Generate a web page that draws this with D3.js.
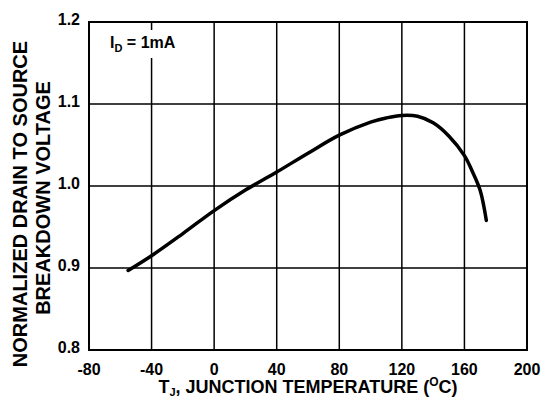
<!DOCTYPE html>
<html>
<head>
<meta charset="utf-8">
<script src="https://cdn.jsdelivr.net/npm/d3@7"></script>
<style>
  body { margin: 0; background: #fff; }
  text { font-family: "Liberation Sans", Arial, sans-serif; font-weight: bold; }
</style>
</head>
<body>
<svg id="chart" width="541" height="400"></svg>
<script>
// junction temperature (°C) and normalized BVdss
const temps = [-55, -40, -20, 0, 20, 40, 60, 80, 100, 110, 120, 130, 140, 150, 160, 165, 170, 174];
const bvdss = [0.897, 0.915, 0.942, 0.970, 0.995, 1.017, 1.040, 1.062, 1.078, 1.083, 1.086, 1.085, 1.077, 1.061, 1.037, 1.018, 0.995, 0.958];
const xTicks = [-80, -40, 0, 40, 80, 120, 160, 200];
const yTicks = [0.8, 0.9, 1.0, 1.1, 1.2];

const svg = d3.select("#chart");
const margin = { top: 22, right: 14, bottom: 50, left: 89 };
const width = 541, height = 400;

const x = d3.scaleLinear().domain([-80, 200]).range([margin.left, width - margin.right]);
const y = d3.scaleLinear().domain([0.8, 1.2]).range([height - margin.bottom, margin.top]);

// grid
svg.append("g")
  .selectAll("line")
  .data(xTicks)
  .join("line")
  .attr("x1", d => x(d)).attr("x2", d => x(d))
  .attr("y1", y(1.2)).attr("y2", y(0.8))
  .attr("stroke", "#000").attr("stroke-width", 1.5);

svg.append("g")
  .selectAll("line")
  .data(yTicks)
  .join("line")
  .attr("x1", x(-80)).attr("x2", x(200))
  .attr("y1", d => y(d)).attr("y2", d => y(d))
  .attr("stroke", "#000").attr("stroke-width", 1.5);

// frame
svg.append("rect")
  .attr("x", x(-80)).attr("y", y(1.2))
  .attr("width", x(200) - x(-80)).attr("height", y(0.8) - y(1.2))
  .attr("fill", "none").attr("stroke", "#000").attr("stroke-width", 2);

// tick labels
svg.append("g")
  .selectAll("text")
  .data(xTicks)
  .join("text")
  .attr("x", d => x(d)).attr("y", 375)
  .attr("text-anchor", "middle")
  .style("font-size", "16px")
  .text(d => d);

svg.append("g")
  .selectAll("text")
  .data(yTicks)
  .join("text")
  .attr("x", 80).attr("y", d => y(d) + 3)
  .attr("text-anchor", "end")
  .style("font-size", "16px")
  .text(d => d.toFixed(1));

// curve
const pts = temps.map((t, i) => [t, bvdss[i]]);
svg.append("path")
  .datum(pts)
  .attr("fill", "none")
  .attr("stroke", "#000")
  .attr("stroke-width", 3.5)
  .attr("stroke-linecap", "round")
  .attr("d", d3.line().x(d => x(d[0])).y(d => y(d[1])).curve(d3.curveCatmullRom));

// condition label with white box over grid
svg.append("rect")
  .attr("x", 104).attr("y", 30).attr("width", 82).attr("height", 28)
  .attr("fill", "#fff");
const cond = svg.append("text").attr("x", 110).attr("y", 48).style("font-size", "16px");
cond.append("tspan").text("I");
cond.append("tspan").attr("dy", 4).style("font-size", "11px").text("D");
cond.append("tspan").attr("dy", -4).text(" = 1mA");

// axis titles
const xt = svg.append("text")
  .attr("x", (x(-80) + x(200)) / 2).attr("y", 393)
  .attr("text-anchor", "middle")
  .style("font-size", "18px");
xt.append("tspan").text("T");
xt.append("tspan").attr("dy", 3).style("font-size", "11px").text("J");
xt.append("tspan").attr("dy", -3).text(", JUNCTION TEMPERATURE (");
xt.append("tspan").attr("dy", -7).style("font-size", "12px").text("O");
xt.append("tspan").attr("dy", 7).text("C)");

svg.append("text")
  .attr("transform", "translate(27,204) rotate(-90)")
  .attr("text-anchor", "middle")
  .style("font-size", "20px")
  .text("NORMALIZED DRAIN TO SOURCE");
svg.append("text")
  .attr("transform", "translate(50,198) rotate(-90)")
  .attr("text-anchor", "middle")
  .style("font-size", "20px")
  .text("BREAKDOWN VOLTAGE");
</script>
</body>
</html>
